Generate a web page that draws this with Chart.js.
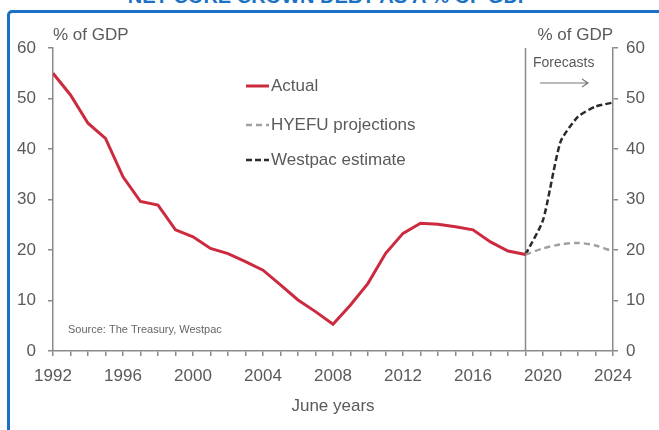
<!DOCTYPE html>
<html>
<head>
<meta charset="utf-8">
<script src="https://cdn.jsdelivr.net/npm/chart.js@4/dist/chart.umd.min.js"></script>
<style>
    body { margin: 0; background: #fff; overflow: hidden; }
    #wrap { position: relative; width: 659px; height: 430px; overflow: hidden; }
    #frame {
        position: absolute; left: 7px; top: 10px; width: 720px; height: 500px;
        border: 3px solid #1b72c5; border-radius: 5px;
    }
    #title {
        position: absolute; left: 0; top: -14px; width: 659px; text-align: center;
        font: bold 20px "Liberation Sans", Arial, sans-serif; line-height: 20px;
        color: #1b72c5; white-space: nowrap;
    }
    #chart { position: absolute; left: 0; top: 0; }
</style>
</head>
<body>
<div id="wrap">
    <div id="title">NET CORE CROWN DEBT AS A % OF GDP</div>
    <div id="frame"></div>
    <canvas id="chart" width="659" height="430"></canvas>
</div>
<script>
const actualYears = [1992, 1993, 1994, 1995, 1996, 1997, 1998, 1999, 2000, 2001, 2002, 2003, 2004, 2005,
                     2006, 2007, 2008, 2009, 2010, 2011, 2012, 2013, 2014, 2015, 2016, 2017, 2018, 2019];
const actual = [55, 50.7, 45.1, 42.1, 34.5, 29.6, 28.9, 24, 22.6, 20.3, 19.3, 17.7, 16, 13.1,
                10.1, 7.8, 5.3, 9.1, 13.4, 19.3, 23.3, 25.3, 25.1, 24.6, 24, 21.6, 19.8, 19.1];

const forecastYears = [2019, 2020, 2021, 2022, 2023, 2024];
const hyefu = [19.1, 20.3, 21.1, 21.4, 20.9, 19.7];
const westpac = [19.1, 25.9, 41.4, 46.4, 48.4, 49.2];

const yTicks = [0, 10, 20, 30, 40, 50, 60];
const forecastStart = 2019;

const FONT = '"Liberation Sans", Arial, sans-serif';
const TEXT = '#5a5a5a';
const AXIS = '#8a8a8a';

const pairs = (xs, ys) => xs.map((x, i) => ({ x: x, y: ys[i] }));

// legend, side captions, forecast divider
const extras = {
    id: 'extras',
    beforeDatasetsDraw(chart) {
        const { ctx, chartArea, scales } = chart;
        const x = scales.x.getPixelForValue(forecastStart);
        ctx.save();
        ctx.strokeStyle = AXIS;
        ctx.lineWidth = 1.5;
        ctx.beginPath();
        ctx.moveTo(x, chartArea.top);
        ctx.lineTo(x, chartArea.bottom);
        ctx.stroke();
        ctx.restore();
    },
    afterDraw(chart) {
        const { ctx } = chart;
        ctx.save();
        ctx.fillStyle = TEXT;
        ctx.textBaseline = 'middle';

        ctx.font = '17px ' + FONT;
        ctx.textAlign = 'left';
        ctx.fillText('% of GDP', 53, 35);
        ctx.textAlign = 'right';
        ctx.fillText('% of GDP', 613, 35);

        ctx.textAlign = 'left';
        ctx.font = '14px ' + FONT;
        ctx.fillText('Forecasts', 533, 63);

        ctx.strokeStyle = '#777';
        ctx.lineWidth = 1.2;
        ctx.beginPath();
        ctx.moveTo(540, 83);
        ctx.lineTo(588, 83);
        ctx.moveTo(582, 79);
        ctx.lineTo(588, 83);
        ctx.lineTo(582, 87);
        ctx.stroke();

        ctx.font = '11px ' + FONT;
        ctx.fillStyle = '#666';
        ctx.fillText('Source: The Treasury, Westpac', 68, 330);

        ctx.font = '17px ' + FONT;
        chart.data.datasets.forEach((ds, i) => {
            const y = [86, 125, 160][i];
            ctx.strokeStyle = ds.borderColor;
            ctx.lineWidth = ds.borderWidth;
            ctx.setLineDash(ds.borderDash || []);
            ctx.beginPath();
            ctx.moveTo(246, y);
            ctx.lineTo(269, y);
            ctx.stroke();
            ctx.setLineDash([]);
            ctx.fillStyle = TEXT;
            ctx.fillText(ds.label, 271, y);
        });
        ctx.restore();
    }
};

new Chart(document.getElementById('chart'), {
    type: 'line',
    data: {
        datasets: [
            {
                label: 'Actual',
                data: pairs(actualYears, actual),
                borderColor: '#cc2a3f',
                borderWidth: 3,
                pointRadius: 0,
                tension: 0
            },
            {
                label: 'HYEFU projections',
                data: pairs(forecastYears, hyefu),
                borderColor: '#a0a0a0',
                borderWidth: 2.5,
                borderDash: [6, 4],
                pointRadius: 0,
                tension: 0.3
            },
            {
                label: 'Westpac estimate',
                data: pairs(forecastYears, westpac),
                borderColor: '#2a2a2a',
                borderWidth: 2.5,
                borderDash: [6, 3],
                pointRadius: 0,
                tension: 0.2
            }
        ]
    },
    options: {
        responsive: false,
        animation: false,
        layout: { padding: { left: 0, right: 0, top: 48, bottom: 0 } },
        plugins: {
            legend: { display: false },
            tooltip: { enabled: false }
        },
        scales: {
            x: {
                type: 'linear',
                min: 1992,
                max: 2024,
                afterFit: s => { s.height = 79; },
                grid: { drawOnChartArea: false, tickLength: 5, color: AXIS, lineWidth: 1.5 },
                border: { color: AXIS, width: 1.5 },
                ticks: {
                    stepSize: 1,
                    autoSkip: false,
                    maxRotation: 0,
                    padding: 10,
                    color: TEXT,
                    font: { family: FONT, size: 17 },
                    callback: v => (v % 4 === 0 ? String(v) : '')
                },
                title: {
                    display: true,
                    text: 'June years',
                    color: TEXT,
                    font: { family: FONT, size: 17 },
                    padding: { top: 0, bottom: 13 }
                }
            },
            y: {
                position: 'left',
                min: 0,
                max: 60,
                afterFit: s => { s.width = 53; },
                afterBuildTicks: s => { s.ticks = yTicks.map(v => ({ value: v })); },
                grid: { drawOnChartArea: false, tickLength: 5, color: AXIS, lineWidth: 1.5 },
                border: { color: AXIS, width: 1.5 },
                ticks: { padding: 12, color: TEXT, font: { family: FONT, size: 17 } }
            },
            y2: {
                position: 'right',
                min: 0,
                max: 60,
                afterFit: s => { s.width = 46; },
                afterBuildTicks: s => { s.ticks = yTicks.map(v => ({ value: v })); },
                grid: { drawOnChartArea: false, tickLength: 5, color: AXIS, lineWidth: 1.5 },
                border: { color: AXIS, width: 1.5 },
                ticks: { padding: 8, color: TEXT, font: { family: FONT, size: 17 } }
            }
        }
    },
    plugins: [extras]
});
</script>
</body>
</html>
